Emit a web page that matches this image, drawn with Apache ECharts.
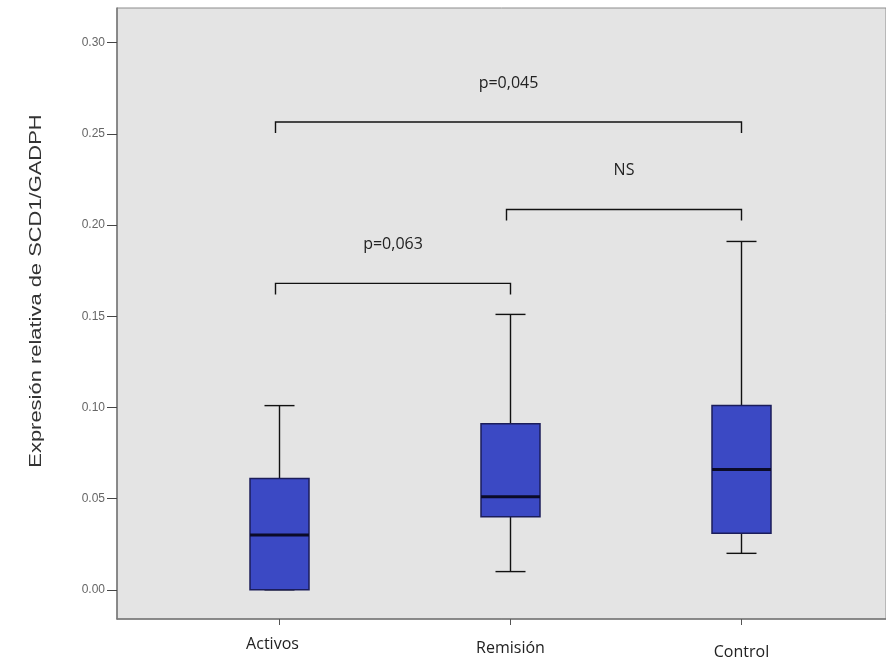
<!DOCTYPE html>
<html>
<head>
<meta charset="utf-8">
<script src="https://cdn.jsdelivr.net/npm/echarts@6/dist/echarts.min.js"></script>
<style>html,body{margin:0;padding:0;background:#fff;}#c{width:886px;height:666px;}</style>
</head>
<body>
<div id="c"></div>
<script>
// ---- data ----
const categories = ['Activos', 'Remisión', 'Control'];
const whiskerLow = [0.00, 0.01, 0.02];
const q1 = [0.00, 0.04, 0.031];
const median = [0.03, 0.051, 0.066];
const q3 = [0.061, 0.091, 0.101];
const whiskerHigh = [0.101, 0.151, 0.191];
const yTicks = [0, 0.05, 0.10, 0.15, 0.20, 0.25, 0.30];
const bracketFrom = [0, 1, 0];
const bracketTo = [2, 2, 1];
const bracketLevel = [0.2565, 0.2085, 0.168];
const bracketLabel = ['p=0,045', 'NS', 'p=0,063'];
const yTitle = 'Expresión relativa de SCD1/GADPH';

const Y_MIN = -0.016, Y_MAX = 0.319;

const boxData = categories.map((c, i) => [i, whiskerLow[i], q1[i], median[i], q3[i], whiskerHigh[i]]);
const bracketData = bracketLabel.map((l, i) => [bracketFrom[i], bracketTo[i], bracketLevel[i], l]);

const labelStyle = {fontFamily: 'Open Sans', fontSize: 16, color: '#222'};

const chart = echarts.init(document.getElementById('c'), null, {renderer: 'canvas'});
chart.setOption({
  animation: false,
  backgroundColor: '#ffffff',
  grid: [
    {left: 117, right: -2, top: 8, bottom: 47, show: true, backgroundColor: '#e4e4e4', borderColor: '#8c8c8c', borderWidth: 1},
    {left: 164, right: 29, top: 8, bottom: 47}
  ],
  graphic: [
    {type: 'text', x: 37, y: 291, rotation: Math.PI / 2, scaleX: 1.37, scaleY: 1,
     style: {text: yTitle, fontFamily: 'Liberation Sans', fontSize: 16, fill: '#333', align: 'center', verticalAlign: 'middle'}}
  ],
  xAxis: [
    {gridIndex: 0, type: 'value', min: 0, max: 1,
     axisLine: {show: true, onZero: false, lineStyle: {color: '#777', width: 1.5}},
     axisTick: {show: false}, axisLabel: {show: false}, splitLine: {show: false}},
    {gridIndex: 1, type: 'category', data: categories, boundaryGap: true,
     axisLine: {show: false, onZero: false},
     axisTick: {show: true, alignWithLabel: true, length: 6, inside: false, lineStyle: {color: '#555'}},
     axisLabel: {margin: 17, fontFamily: 'Open Sans', fontSize: 16, color: '#222',
       formatter: (v, i) => '{l' + i + '|' + v + '}',
       rich: {
         l0: Object.assign({padding: [0, 14, 0, 0]}, labelStyle),
         l1: Object.assign({padding: [4, 0, 0, 0]}, labelStyle),
         l2: Object.assign({padding: [8, 0, 0, 0]}, labelStyle)
       }}}
  ],
  yAxis: [
    {gridIndex: 0, type: 'value', min: Y_MIN, max: Y_MAX,
     axisLine: {show: true, onZero: false, lineStyle: {color: '#777', width: 1.5}},
     axisTick: {show: true, length: 10, lineStyle: {color: '#444'}, customValues: yTicks},
     axisLabel: {customValues: yTicks, margin: 12, fontFamily: 'Liberation Sans', fontSize: 12, color: '#666', formatter: v => v.toFixed(2)},
     splitLine: {show: false}},
    {gridIndex: 1, type: 'value', min: Y_MIN, max: Y_MAX, show: false}
  ],
  series: [
    {
      type: 'custom', xAxisIndex: 1, yAxisIndex: 1, data: boxData,
      renderItem: function (params, api) {
        const x = api.value(0);
        const lo = api.coord([x, api.value(1)]);
        const b1 = api.coord([x, api.value(2)]);
        const md = api.coord([x, api.value(3)]);
        const b3 = api.coord([x, api.value(4)]);
        const hi = api.coord([x, api.value(5)]);
        const cx = lo[0];
        const bw = 59, cw = 30;
        const line = {stroke: '#111', lineWidth: 1.4};
        return {type: 'group', children: [
          {type: 'line', shape: {x1: cx, y1: hi[1], x2: cx, y2: b3[1]}, style: line},
          {type: 'line', shape: {x1: cx, y1: b1[1], x2: cx, y2: lo[1]}, style: line},
          {type: 'line', shape: {x1: cx - cw / 2, y1: hi[1], x2: cx + cw / 2, y2: hi[1]}, style: line},
          {type: 'line', shape: {x1: cx - cw / 2, y1: lo[1], x2: cx + cw / 2, y2: lo[1]}, style: line},
          {type: 'rect', shape: {x: cx - bw / 2, y: b3[1], width: bw, height: b1[1] - b3[1]},
           style: {fill: '#3b49c4', stroke: '#1b1d5a', lineWidth: 1.5}},
          {type: 'line', shape: {x1: cx - bw / 2, y1: md[1], x2: cx + bw / 2, y2: md[1]}, style: {stroke: '#0b0b28', lineWidth: 3}}
        ]};
      }
    },
    {
      type: 'custom', xAxisIndex: 1, yAxisIndex: 1, data: bracketData,
      renderItem: function (params, api) {
        const a = api.coord([api.value(0), api.value(2)]);
        const b = api.coord([api.value(1), api.value(2)]);
        const x1 = a[0] - 4, x2 = b[0], y = a[1];
        const drop = 11;
        const st = {stroke: '#111', lineWidth: 1.4, fill: 'none'};
        return {type: 'group', children: [
          {type: 'polyline', shape: {points: [[x1, y + drop], [x1, y], [x2, y], [x2, y + drop]]}, style: st},
          {type: 'text', x: (x1 + x2) / 2, y: y - 39,
           style: {text: api.value(3), fontFamily: 'Open Sans', fontSize: 16, fill: '#222', align: 'center', verticalAlign: 'middle'}}
        ]};
      }
    }
  ]
});
</script>
</body>
</html>
